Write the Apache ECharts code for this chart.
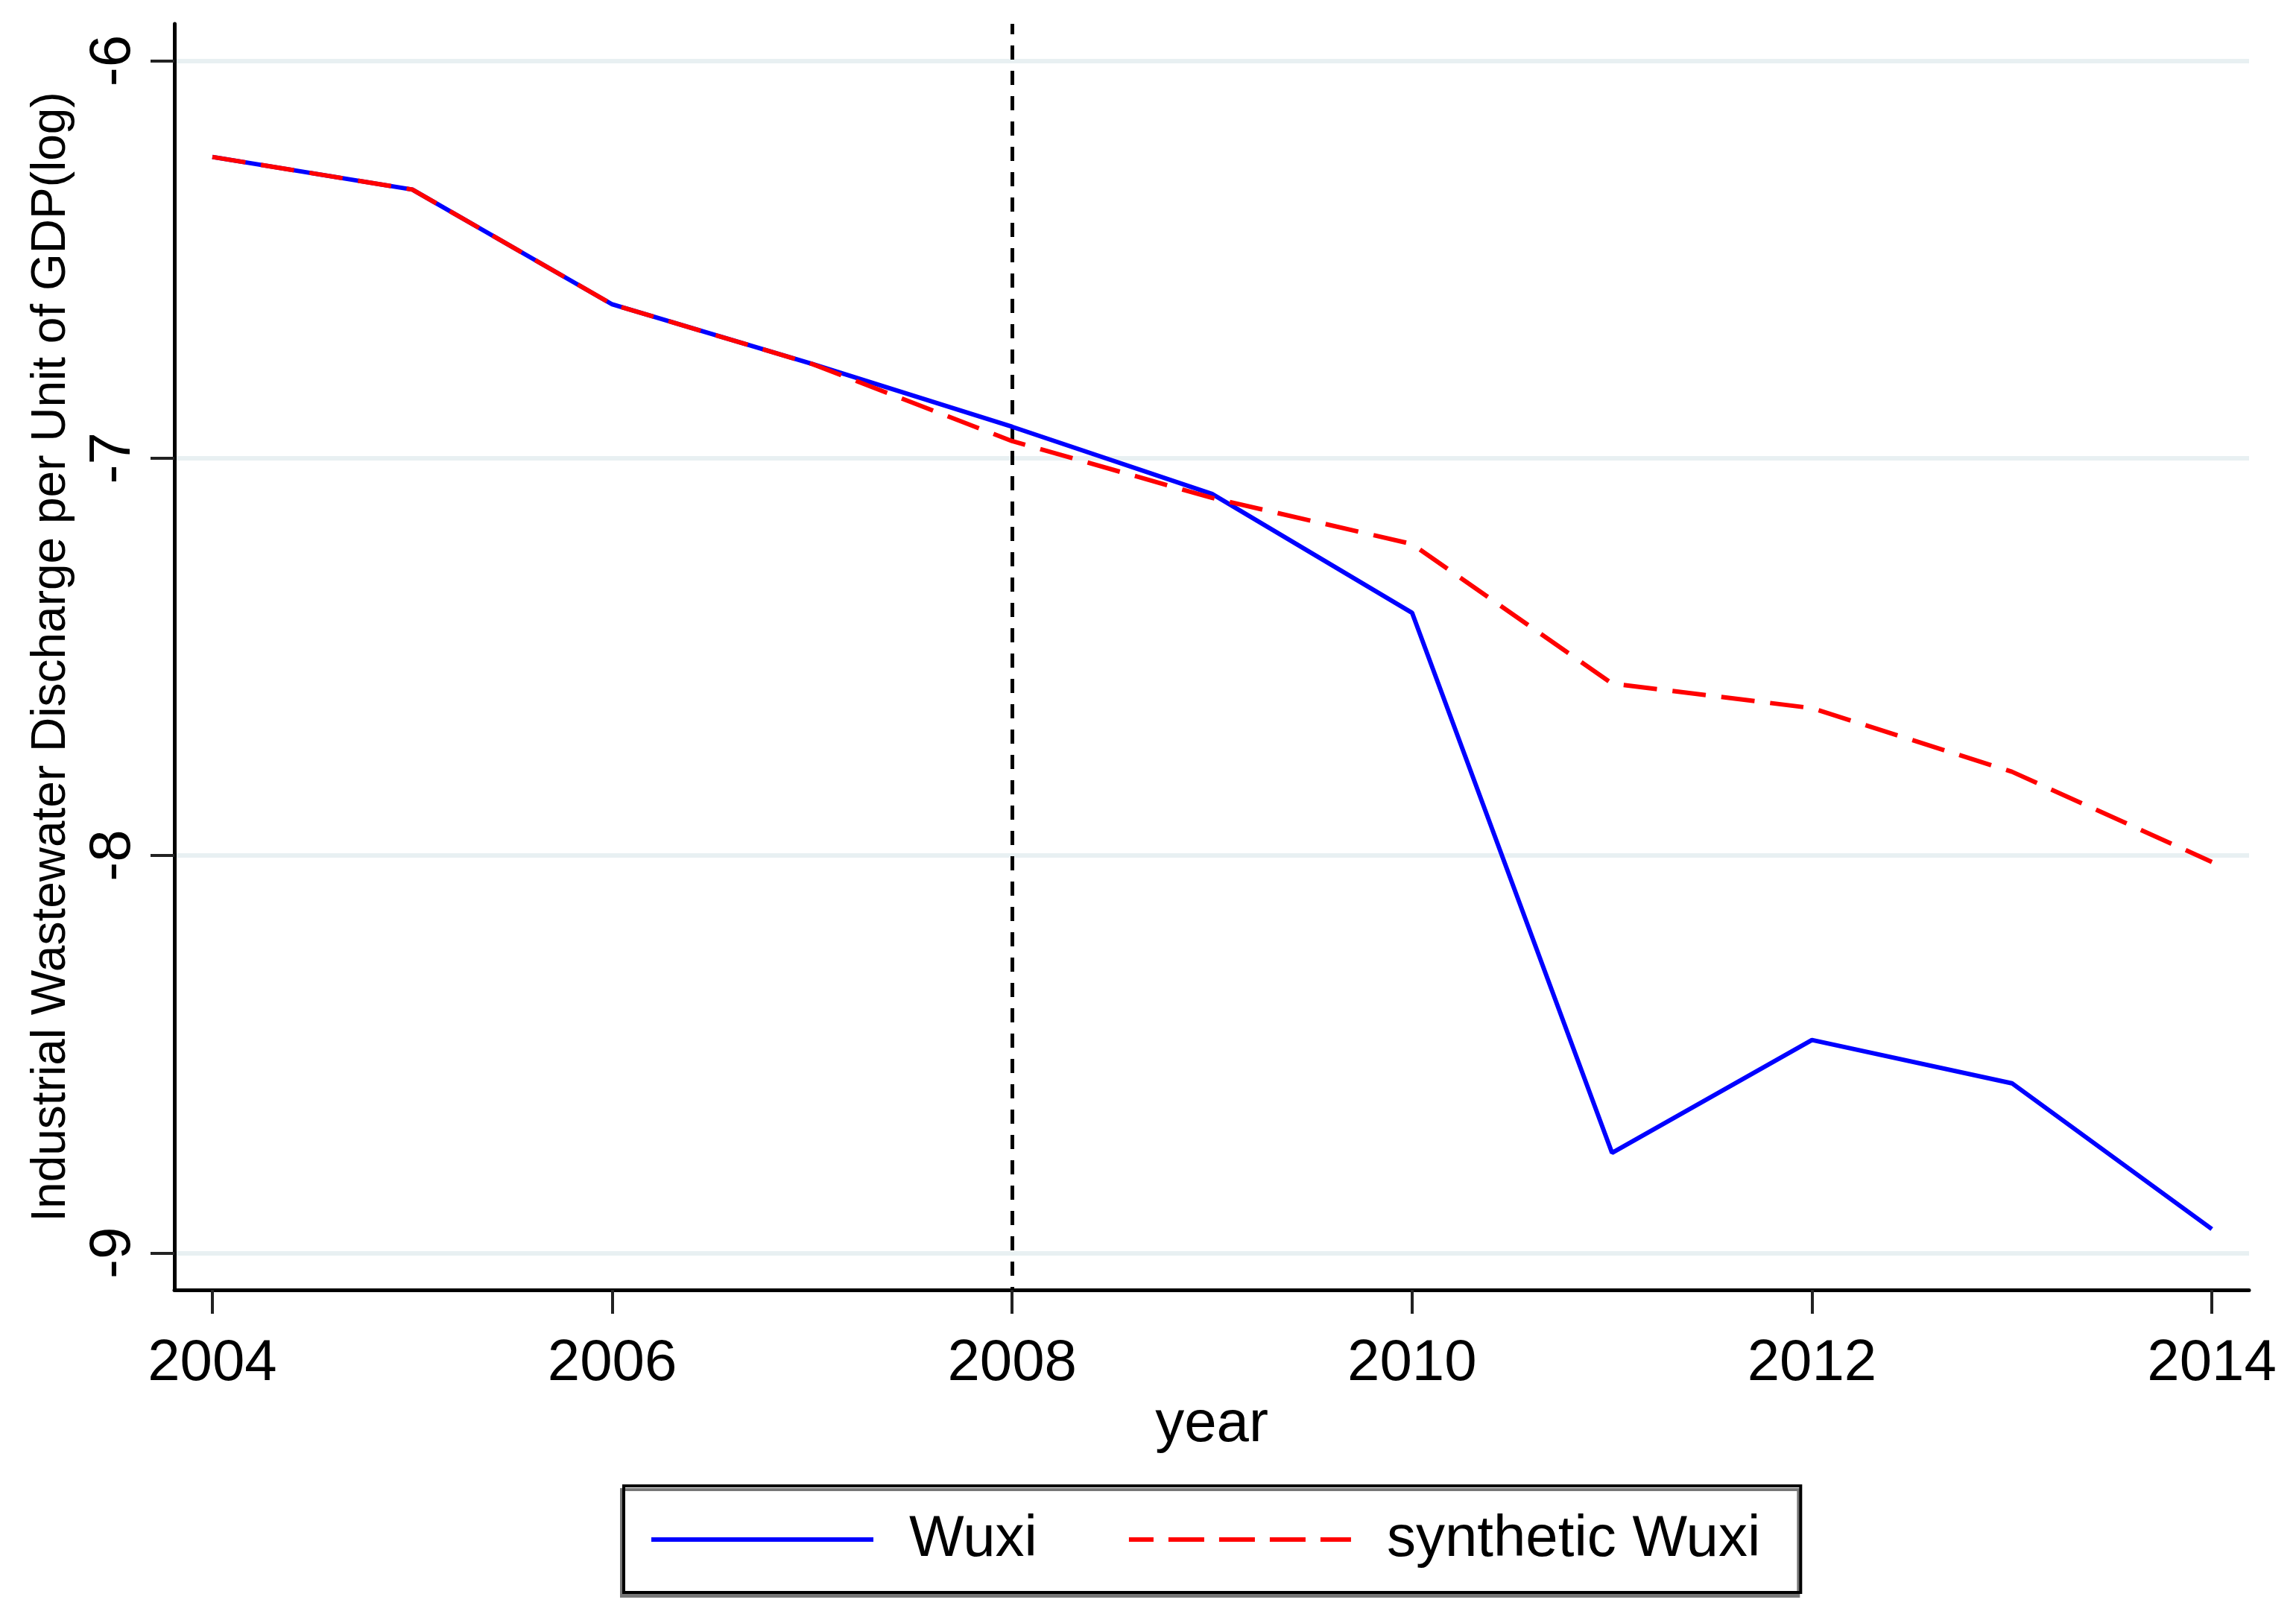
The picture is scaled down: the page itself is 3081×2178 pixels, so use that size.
<!DOCTYPE html>
<html>
<head>
<meta charset="utf-8">
<script src="https://cdn.jsdelivr.net/npm/echarts@6/dist/echarts.min.js"></script>
<style>
  html, body { margin: 0; padding: 0; background: #ffffff; }
  #chart { width: 3081px; height: 2178px; }
</style>
</head>
<body>
<div id="chart"></div>
<script>
const years = [2004, 2005, 2006, 2007, 2008, 2009, 2010, 2011, 2012, 2013, 2014];
const wuxi = [-6.242, -6.324, -6.613, -6.763, -6.921, -7.090, -7.389, -8.748, -8.464, -8.573, -8.940];
const syntheticWuxi = [-6.242, -6.324, -6.613, -6.763, -6.957, -7.100, -7.216, -7.567, -7.629, -7.789, -8.016];
const xTicks = [2004, 2006, 2008, 2010, 2012, 2014];
const yTicks = [-9, -8, -7, -6];
const treatmentYear = 2008;

const FONT = 'Liberation Sans, Arial, sans-serif';
const chart = echarts.init(document.getElementById('chart'), null, { renderer: 'canvas' });

const option = {
  backgroundColor: '#ffffff',
  animation: false,
  grid: { left: 234, right: 63, top: 32, bottom: 447, containLabel: false },
  xAxis: {
    type: 'value',
    min: 2003.81,
    max: 2014.186,
    name: 'year',
    nameLocation: 'middle',
    nameGap: 142,
    nameTextStyle: { fontFamily: FONT, fontSize: 78, color: '#000' },
    axisLine: { show: true, onZero: false, lineStyle: { color: '#000', width: 5 } },
    axisTick: { show: true, length: 32, lineStyle: { color: '#222', width: 4 }, customValues: xTicks },
    axisLabel: { fontFamily: FONT, fontSize: 78, color: '#000', margin: 60, customValues: xTicks, formatter: v => String(v) },
    splitLine: { show: false }
  },
  yAxis: {
    type: 'value',
    min: -9.093,
    max: -5.907,
    name: 'Industrial Wastewater Discharge per Unit of GDP(log)',
    nameLocation: 'middle',
    nameGap: 133,
    nameTextStyle: { fontFamily: FONT, fontSize: 64, color: '#000' },
    axisLine: { show: true, onZero: false, lineStyle: { color: '#000', width: 5 } },
    axisTick: { show: true, length: 32, lineStyle: { color: '#222', width: 4 }, customValues: yTicks },
    axisLabel: { fontFamily: FONT, fontSize: 78, color: '#000', margin: 43, rotate: 90, customValues: yTicks, formatter: v => String(v) },
    splitLine: { show: true, lineStyle: { color: '#e8f0f2', width: 6 } }
  },
  legend: {
    left: 837,
    top: 1994,
    orient: 'horizontal',
    padding: [32, 54, 31, 34],
    itemGap: 120,
    itemWidth: 298,
    itemHeight: 80,
    borderColor: '#000',
    borderWidth: 4,
    backgroundColor: '#fff',
    shadowColor: '#777',
    shadowOffsetX: -3,
    shadowOffsetY: 5,
    shadowBlur: 0,
    itemStyle: { opacity: 0 },
    textStyle: { fontFamily: FONT, fontSize: 78, color: '#000', padding: [0, 0, 0, 43], lineHeight: 80 },
    data: [
      { name: 'Wuxi', lineStyle: { color: '#0000ff', width: 6, type: 'solid' } },
      { name: 'synthetic Wuxi', lineStyle: { color: '#ff0000', width: 6, type: [48, 20] } }
    ]
  },
  series: [
    {
      name: 'Wuxi',
      type: 'line',
      data: years.map((y, i) => [y, wuxi[i]]),
      symbol: 'none',
      lineStyle: { color: '#0000ff', width: 6 },
      itemStyle: { color: '#0000ff' },
      z: 3
    },
    {
      name: 'synthetic Wuxi',
      type: 'line',
      data: years.map((y, i) => [y, syntheticWuxi[i]]),
      symbol: 'none',
      lineStyle: { color: '#ff0000', width: 6, type: [45, 21] },
      itemStyle: { color: '#ff0000' },
      z: 4,
      markLine: {
        silent: true,
        symbol: ['none', 'none'],
        label: { show: false },
        lineStyle: { color: '#000', width: 5, type: [19, 15], dashOffset: 15 },
        data: [{ xAxis: treatmentYear }],
        z: 2
      }
    }
  ]
};
chart.setOption(option);
</script>
</body>
</html>
